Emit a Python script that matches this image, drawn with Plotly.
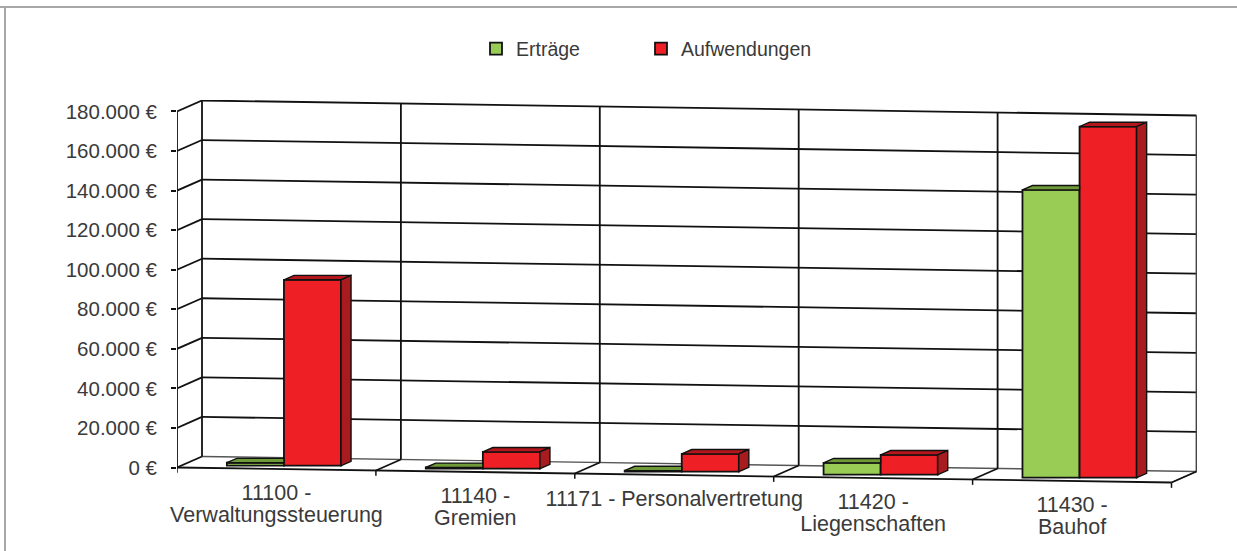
import plotly.graph_objects as go

categories = ["11100 -<br>Verwaltungssteuerung", "11140 -<br>Gremien", "11171 - Personalvertretung",
              "11420 -<br>Liegenschaften", "11430 -<br>Bauhof"]
ertraege = [1500, 600, 500, 6000, 145500]
aufwendungen = [94000, 8500, 9000, 10000, 177500]
y_ticks = [0, 20000, 40000, 60000, 80000, 100000, 120000, 140000, 160000, 180000]
y_labels = ["0 €", "20.000 €", "40.000 €", "60.000 €", "80.000 €", "100.000 €",
            "120.000 €", "140.000 €", "160.000 €", "180.000 €"]

# Pseudo-3D projection, in axis units
SKEW = -1517        # floor slope: value units per category
DEPTH_X = 0.1257    # full depth, category units
DEPTH_Y = 5562      # full depth, value units
BAR_W = 0.287
D0, D1 = 0.3, 0.7   # bar front/back depth
PX = 505.6          # value units per pixel
TOP, PLOT_H = 100, 451


def P(x, v, d=0.0):
    return x + d * DEPTH_X, v + SKEW * x + d * DEPTH_Y


TEXT = "#3a3a3a"
LINE = "#111111"
FONT = "Liberation Sans, Arial, sans-serif"
RED, RED_S, RED_T = "#ee2026", "#a81c20", "#b5161c"
GRN, GRN_T = "#99cc55", "#6f9a38"
n = len(categories)

shapes = []


def seg(a, b, width=1.8, color=LINE):
    shapes.append(dict(type="line", xref="x", yref="y", layer="below", x0=a[0], y0=a[1], x1=b[0], y1=b[1],
                       line=dict(color=color, width=width)))


for v in y_ticks:
    seg(P(0, v, 1), P(n, v, 1), 1.8 if v else 1.4, LINE if v else "#555555")   # back wall
    seg(P(0, v, 0), P(0, v, 1), 1.8)                                           # side wall
seg(P(0, 0), P(0, y_ticks[-1]))
seg(P(0, 0), P(n, 0), 1.8)
seg(P(n, 0), P(n, 0, 1), 1.2, "#666666")
for i in range(n + 1):
    seg(P(i, 0, 1), P(i, y_ticks[-1], 1), 1.8, LINE if i < n else "#444444")
    if i:
        seg(P(i, 0), P(i, 0, 1), 1.8)
    px = P(i, 0)
    seg(px, (px[0], px[1] - 2700), 1.5)
# page frame
frame_top = (TOP + PLOT_H - 7) / PLOT_H
shapes.append(dict(type="line", xref="paper", yref="paper", layer="below", x0=-177 / 1020, x1=(1237 - 177) / 1020,
                   y0=frame_top, y1=frame_top, line=dict(color="#a8a8a8", width=2)))
shapes.append(dict(type="line", xref="paper", yref="paper", layer="below", x0=-172 / 1020, x1=-172 / 1020,
                   y0=0, y1=frame_top, line=dict(color="#a8a8a8", width=2)))

fig = go.Figure()


def bar_geom(i, side):
    """left x, base value at the bar's front face"""
    cx = i + 0.5 + D0 * DEPTH_X
    x0 = cx - BAR_W if side == 0 else cx
    _, b = P(i + 0.5, 0, D0)
    return x0, b


gx = [bar_geom(i, 0)[0] + BAR_W / 2 for i in range(n)]
rx = [bar_geom(i, 1)[0] + BAR_W / 2 for i in range(n)]
bases = [bar_geom(i, 0)[1] for i in range(n)]

fig.add_trace(go.Bar(name="Erträge", x=gx, y=ertraege, base=bases, width=BAR_W, legendwidth=120,
                     marker=dict(color=GRN, line=dict(color=LINE, width=1.8))))
fig.add_trace(go.Bar(name="Aufwendungen", x=rx, y=aufwendungen, base=bases, width=BAR_W, legendwidth=140,
                     marker=dict(color=RED, line=dict(color=LINE, width=1.8))))

dx = (D1 - D0) * DEPTH_X
dy = (D1 - D0) * DEPTH_Y

# top faces and right sides
gtx, gty, rtx, rty, rsx, rsy = [], [], [], [], [], []
for i in range(n):
    x0 = bar_geom(i, 0)[0]
    t = bases[i] + ertraege[i]
    gtx += [x0, x0 + dx, x0 + BAR_W, x0 + BAR_W, x0, None]
    gty += [t, t + dy, t + dy, t, t, None]
    x0 = bar_geom(i, 1)[0]
    x1 = x0 + BAR_W
    t = bases[i] + aufwendungen[i]
    rtx += [x0, x0 + dx, x1 + dx, x1, x0, None]
    rty += [t, t + dy, t + dy, t, t, None]
    rsx += [x1, x1 + dx, x1 + dx, x1, x1, None]
    rsy += [t, t + dy, bases[i] + dy, bases[i], t, None]

for xs, ys, c in [(gtx, gty, GRN_T), (rtx, rty, RED_T), (rsx, rsy, RED_S)]:
    fig.add_trace(go.Scatter(x=xs, y=ys, mode="lines", fill="toself", fillcolor=c,
                             line=dict(color=LINE, width=1.4), showlegend=False, hoverinfo="skip"))

# category labels below the sloping front edge, tighter line spacing than <br> gives
for line_no, offset_px in enumerate([26, 48]):
    xs, ys, tx = [], [], []
    for i, c in enumerate(categories):
        parts = c.split("<br>")
        if line_no < len(parts):
            xs.append(i + 0.5)
            ys.append(P(i + 0.5, 0)[1] - offset_px * PX)
            tx.append(parts[line_no])
    fig.add_trace(go.Scatter(x=xs, y=ys, mode="text", text=tx, textposition="middle center", cliponaxis=False,
                             textfont=dict(family=FONT, size=21.5, color=TEXT), showlegend=False, hoverinfo="skip"))

fig.update_layout(
    width=1237, height=551, autosize=False,
    margin=dict(l=177, r=40, t=TOP, b=551 - TOP - PLOT_H, autoexpand=False),
    paper_bgcolor="white", plot_bgcolor="rgba(0,0,0,0)",
    barmode="overlay", font=dict(family=FONT, color=TEXT, size=20),
    showlegend=True,
    legend=dict(orientation="h", x=(476 - 177) / 1020, xanchor="left", y=1 + (TOP - 49) / PLOT_H, yanchor="middle",
                traceorder="normal", font=dict(family=FONT, size=19.5, color=TEXT), bgcolor="rgba(0,0,0,0)"),
    xaxis=dict(range=[0, 1020 / 198.9], visible=False, fixedrange=True),
    yaxis=dict(range=[(467.5 - 551) * PX, (467.5 - TOP) * PX], tickvals=y_ticks, ticktext=y_labels,
               showgrid=False, zeroline=False, showline=False, ticks="outside", ticklen=5, tickwidth=1.5,
               tickcolor=LINE, ticklabelstandoff=10, tickfont=dict(family=FONT, size=20.5, color=TEXT),
               fixedrange=True),
    shapes=shapes,
)
fig.write_html("out.html", post_script="document.body.style.margin='0';", config={"displayModeBar": False})
